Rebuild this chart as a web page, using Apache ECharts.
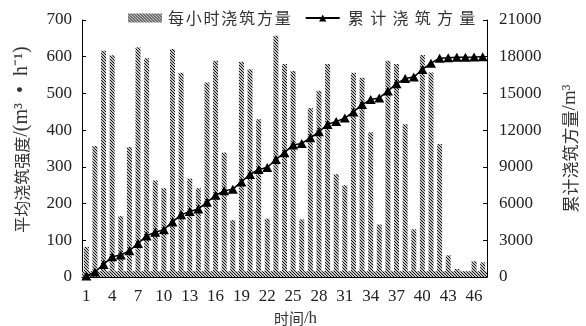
<!DOCTYPE html>
<html><head><meta charset="utf-8">
<script src="https://cdn.jsdelivr.net/npm/echarts@6/dist/echarts.min.js"></script>
<style>html,body{margin:0;padding:0;background:#fff}#c{width:586px;height:326px}</style>
</head><body><div id="c"></div>
<script>
const hours = ['1','2','3','4','5','6','7','8','9','10','11','12','13','14','15','16','17','18','19','20','21','22','23','24','25','26','27','28','29','30','31','32','33','34','35','36','37','38','39','40','41','42','43','44','45','46','47'];
const hourlyVolume = [82,357,616,604,166,354,626,596,263,242,621,556,268,242,530,589,339,155,586,566,430,159,657,580,561,157,460,507,580,280,250,556,543,394,143,589,580,416,130,605,557,362,59,22,12,43,40];
const cumulativeVolume = [80,400,1030,1650,1790,2150,2740,3360,3660,3870,4500,5080,5360,5560,6100,6680,7040,7180,7770,8380,8790,8950,9600,10160,10790,10910,11370,11865,12470,12700,12990,13490,14090,14500,14630,15200,15800,16215,16335,16960,17470,17880,17910,17950,17965,17980,18000];
const leftAxisRange = [0, 700, 100];
const rightAxisRange = [0, 21000, 3000];
const seriesNames = ['每小时浇筑方量', '累计浇筑方量'];

function hatch() {
  const c = document.createElement('canvas');
  c.width = 6; c.height = 6;
  const g = c.getContext('2d');
  g.fillStyle = '#c4c4c4'; g.fillRect(0, 0, 6, 6);
  g.fillStyle = '#151515';
  for (let y = 0; y < 6; y++) for (let x = 0; x < 6; x++) if ((((x - y) % 3) + 3) % 3 === 0) g.fillRect(x, y, 1, 1);
  return c;
}
const pattern = { image: hatch(), repeat: 'repeat' };
const serif = "Liberation Serif";
const cjk = "Noto Sans CJK SC";

const chart = echarts.init(document.getElementById('c'));
chart.setOption({
  animation: false,
  backgroundColor: '#fff',
  grid: { left: 82, right: 99, top: 20, bottom: 49, containLabel: false, outerBoundsMode: 'none' },
  legend: {
    left: 123, top: 5, itemWidth: 34, itemHeight: 9, itemGap: 14,
    data: [{ name: seriesNames[0], icon: 'rect' }, { name: seriesNames[1] }],
    formatter: n => n.split('').map(ch => (n === seriesNames[1] ? '{b|' : '{a|') + ch + '}').join(''),
    textStyle: {
      fontFamily: cjk, fontSize: 16, color: '#333',
      rich: {
        a: { width: 17.8, align: 'center', fontFamily: cjk, fontSize: 16, color: '#333' },
        b: { width: 22.3, align: 'center', fontFamily: cjk, fontSize: 16, color: '#333' }
      }
    }
  },
  xAxis: {
    type: 'category', data: hours, boundaryGap: true,
    axisLine: { show: true, lineStyle: { color: '#000', width: 1 } },
    axisTick: { show: false },
    axisLabel: { interval: 2, fontFamily: serif, fontSize: 17, color: '#222', margin: 11 },
    name: '{c|时间}{l|/h}', nameLocation: 'middle', nameGap: 33,
    nameTextStyle: {
      padding: [0, 0, 0, 22],
      rich: { c: { fontFamily: cjk, fontSize: 15, color: '#333' }, l: { fontFamily: serif, fontSize: 17, color: '#333' } }
    }
  },
  yAxis: [{
    type: 'value', min: leftAxisRange[0], max: leftAxisRange[1], interval: leftAxisRange[2], position: 'left',
    axisLine: { show: true, lineStyle: { color: '#000', width: 1 } },
    axisTick: { show: true, inside: true, length: 4, lineStyle: { color: '#000' } },
    axisLabel: { fontFamily: serif, fontSize: 17, color: '#222', margin: 10, formatter: v => String(v) },
    splitLine: { show: false },
    name: '{c|平均浇筑强度}{l|/(m³  •  h⁻¹)}', nameLocation: 'middle', nameGap: 50,
    nameTextStyle: {
      padding: [0, 0, 0, 18],
      rich: { c: { fontFamily: cjk, fontSize: 16, color: '#333' }, l: { fontFamily: serif, fontSize: 20, color: '#333' } }
    }
  }, {
    type: 'value', min: rightAxisRange[0], max: rightAxisRange[1], interval: rightAxisRange[2], position: 'right',
    axisLine: { show: true, lineStyle: { color: '#000', width: 1 } },
    axisTick: { show: true, inside: true, length: 4, lineStyle: { color: '#000' } },
    axisLabel: { fontFamily: serif, fontSize: 17, color: '#222', margin: 12, formatter: v => String(v) },
    splitLine: { show: false },
    name: '{c|累计浇筑方量}{l|/m³}', nameLocation: 'middle', nameGap: 74,
    nameTextStyle: {
      rich: { c: { fontFamily: cjk, fontSize: 17, color: '#333' }, l: { fontFamily: serif, fontSize: 19, color: '#333' } }
    }
  }],
  series: [{
    name: seriesNames[0], type: 'bar', yAxisIndex: 0, data: hourlyVolume, barWidth: 5,
    itemStyle: { color: pattern },
    markArea: { silent: true, itemStyle: { color: pattern }, data: [[{ yAxis: 0 }, { yAxis: 16 }]] }
  }, {
    name: seriesNames[1], type: 'line', yAxisIndex: 1, data: cumulativeVolume, z: 5,
    symbol: 'triangle', symbolSize: [10, 9], showAllSymbol: true, color: '#000',
    itemStyle: { color: '#000' }, lineStyle: { color: '#000', width: 1.5 }
  }]
});
</script></body></html>
